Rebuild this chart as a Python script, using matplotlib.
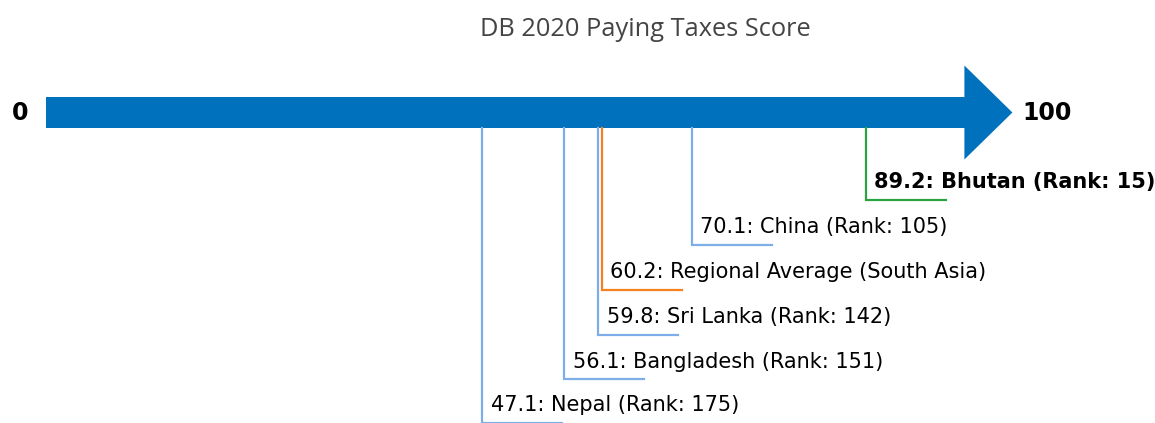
import matplotlib.pyplot as plt
from matplotlib.patches import Polygon

plt.rcParams['font.family'] = 'DejaVu Sans'

# data
labels = ['Bhutan', 'China', 'Regional Average (South Asia)', 'Sri Lanka', 'Bangladesh', 'Nepal']
scores = [89.2, 70.1, 60.2, 59.8, 56.1, 47.1]
ranks = [15, 105, None, 142, 151, 175]
colors = ['#2ca342', '#7eaeea', '#f5821f', '#7eaeea', '#7eaeea', '#7eaeea']
bold = [True, False, False, False, False, False]

fig = plt.figure(figsize=(11.55, 4.23), dpi=100)
ax = fig.add_axes([0, 0, 1, 1])
px = 9.114  # pixels per score unit
x0 = 53.0
ax.set_xlim(-x0 / px, (1155 - x0) / px)
ax.set_ylim(423, 0)
ax.axis('off')

# arrow (body to 100, head past it)
yc = 112.5
body = 15.5
head = 47
hl = 48 / px
pts = [(-7 / px, yc - body), (100, yc - body), (100, yc - head), (100 + hl, yc),
       (100, yc + head), (100, yc + body), (-7 / px, yc + body)]
ax.add_patch(Polygon(pts, closed=True, color='#0071bc', lw=0))

ax.text(-3.6, yc, '0', fontsize=17, fontweight='bold', ha='center', va='center')
ax.text((1022 - x0) / px, yc, '100', fontsize=17, fontweight='bold', ha='left', va='center')

ax.text((645 - x0) / px, 36, 'DB 2020 Paying Taxes Score', fontsize=18.3,
        family='Open Sans', color='#444444', ha='center', va='baseline')

y_levels = [200, 245, 290, 335, 379.5, 423]
for lab, s, r, c, b, yl in zip(labels, scores, ranks, colors, bold, y_levels):
    ax.plot([s, s, s + 80 / px], [128, yl, yl], color=c, lw=1.6,
            solid_joinstyle='miter', clip_on=False)
    txt = f'{s}: {lab}' if r is None else f'{s}: {lab} (Rank: {r})'
    ax.text(s + 8.5 / px, yl - 12, txt, fontsize=15,
            fontweight='bold' if b else 'normal', ha='left', va='baseline')

fig.savefig('out.png', dpi=100)
